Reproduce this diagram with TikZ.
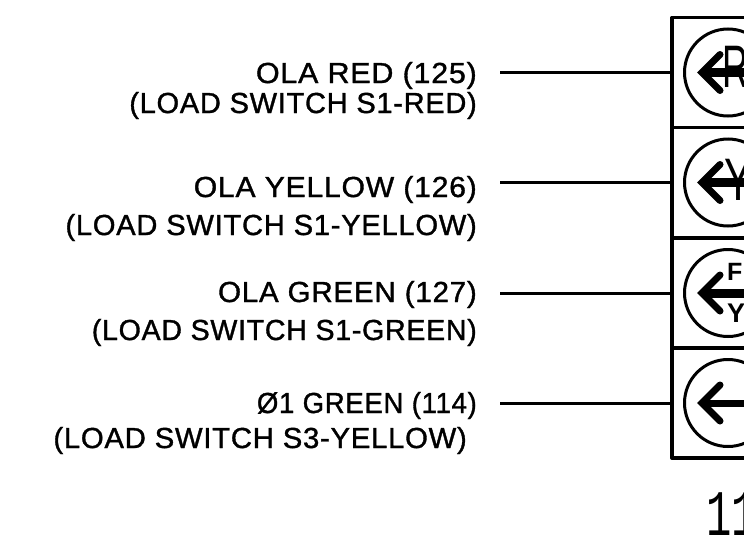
\documentclass[tikz,border=0pt]{standalone}
\usepackage{fontspec}
\setmainfont[LetterSpace=2.5,FakeBold=1.2]{Liberation Sans}
\newfontfamily\monofont{Liberation Mono}
\newfontfamily\plainfont{Liberation Sans}
\tikzstyle{cadre}   =[draw, line width=3.4pt, minimum width=300pt, minimum height=110pt, inner sep=0pt, line join=round]
\tikzstyle{cercle}  =[draw, circle, line width=3pt, minimum size=87pt, inner sep=0pt]
\tikzstyle{liaison} =[line width=3pt]
\tikzstyle{fleche}  =[line width=7pt, line cap=round, line join=miter]
\tikzstyle{texte}   =[anchor=base east, inner sep=0pt, transform shape, font=\fontsize{29}{29}\selectfont]
\tikzstyle{lettre}  =[inner sep=0pt, anchor=base west, font=\plainfont\fontsize{30}{30}\selectfont]
\begin{document}
\begin{tikzpicture}[x=1pt,y=-1pt]
 \clip (0,0) rectangle (744,538);
 \foreach \n/\y/\w in {1/72.5/9,2/182.5/9,3/293/9,4/403/7} {
  \node[cadre] (row\n) at (822,\y) {};
  \node[cercle] (sig\n) at (728,\y) {};
  \coordinate (lead\n) at (500,\y);
  \draw[liaison] (lead\n) -- (row\n.west);
  \coordinate (tip\n) at (702,\y);
  \draw[fleche] (720,\y-18) -- (tip\n) -- (720,\y+18);
  \draw[line width=\w pt] (tip\n) -- (760,\y);
 }
 \node[texte, xscale=1.05] (red) at (477,83) {OLA RED (125)};
 \node[texte] (redsw) at (477,113) {(LOAD SWITCH S1-RED)};
 \node[texte, xscale=1.04] (yel) at (477,197) {OLA YELLOW (126)};
 \node[texte, xscale=1.005] (yelsw) at (477,235) {(LOAD SWITCH S1-YELLOW)};
 \node[texte, xscale=1.02] (gre) at (477,302) {OLA GREEN (127)};
 \node[texte, xscale=.985] (gresw) at (477,340) {(LOAD SWITCH S1-GREEN)};
 \node[texte, xscale=.95] (one) at (477,413) {Ø1 GREEN (114)};
 \node[texte, xscale=1.01] (onesw) at (467,448) {(LOAD SWITCH S3-YELLOW)};
 \node[lettre, xscale=1.2, yscale=2, transform shape] (symr) at (722,87) {R};
 \node[lettre, xscale=1.4, yscale=2, transform shape] (symy) at (724,200) {Y};
 \node[lettre, font=\plainfont\bfseries\fontsize{25}{25}\selectfont] (symf) at (727,280) {F};
 \node[lettre, font=\plainfont\bfseries\fontsize{27}{27}\selectfont] (symg) at (727,322) {Y};
 \node[anchor=base west, inner sep=0pt, xscale=.65, transform shape, font=\monofont\fontsize{65}{65}\selectfont] (num) at (706,535) {11};
\end{tikzpicture}
\end{document}
